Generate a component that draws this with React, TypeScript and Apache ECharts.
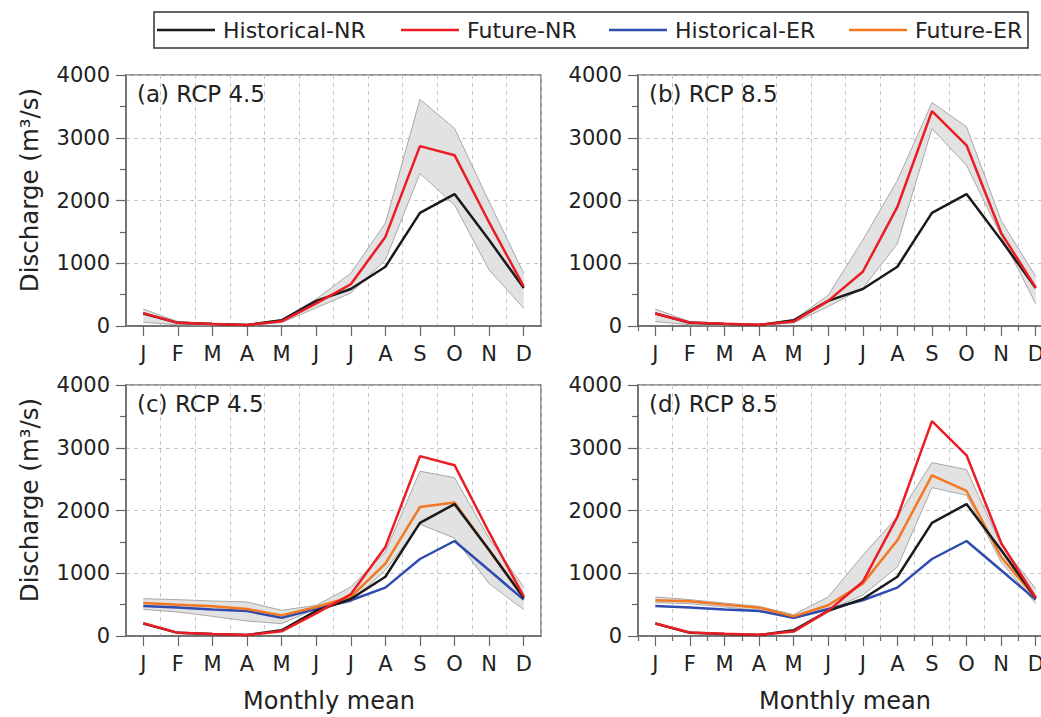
import React, { useEffect, useRef } from 'react';
import * as echarts from 'echarts';

const MONTHS = ['J', 'F', 'M', 'A', 'M', 'J', 'J', 'A', 'S', 'O', 'N', 'D'];
const Y_TICKS = [0, 1000, 2000, 3000, 4000];

const HIST_NR = [200, 50, 30, 15, 90, 400, 590, 945, 1803, 2102, 1370, 605];
const FUT_NR_45 = [205, 50, 30, 15, 75, 360, 665, 1420, 2866, 2722, 1650, 630];
const FUT_NR_85 = [200, 55, 35, 20, 70, 400, 865, 1897, 3424, 2880, 1485, 610];
const HIST_ER = [478, 455, 422, 398, 292, 430, 569, 771, 1227, 1514, 1047, 580];
const FUT_ER_45 = [526, 499, 473, 430, 329, 462, 622, 1153, 2056, 2126, 1366, 622];
const FUT_ER_85 = [568, 552, 500, 452, 313, 489, 835, 1525, 2561, 2311, 1259, 606];

const BAND_A_UP = [270, 70, 45, 25, 100, 430, 840, 1640, 3612, 3150, 1980, 840];
const BAND_A_LO = [60, 20, 10, 5, 55, 290, 525, 1050, 2433, 1928, 892, 282];
const BAND_B_UP = [270, 70, 45, 28, 100, 490, 1370, 2320, 3560, 3175, 1680, 790];
const BAND_B_LO = [70, 20, 10, 5, 50, 310, 600, 1310, 3145, 2560, 1440, 356];
const BAND_C_UP = [595, 579, 558, 542, 409, 489, 781, 1339, 2625, 2524, 1557, 781];
const BAND_C_LO = [425, 382, 313, 239, 197, 436, 542, 1047, 1780, 1560, 835, 421];
const BAND_D_UP = [622, 579, 526, 473, 340, 622, 1286, 1900, 2763, 2652, 1450, 755];
const BAND_D_LO = [531, 515, 462, 409, 276, 409, 650, 1100, 2365, 2242, 1180, 516];

const PANEL_LABELS = ['(a) RCP 4.5', '(b) RCP 8.5', '(c) RCP 4.5', '(d) RCP 8.5'];
const NAMES = ['Historical-NR', 'Future-NR', 'Historical-ER', 'Future-ER'];
const COLORS: Record<string, string> = {
  'Historical-NR': '#1a1a1a',
  'Future-NR': '#ec1c24',
  'Historical-ER': '#2f4cae',
  'Future-ER': '#f27821',
};

const FONT = 'DejaVu Sans';
const TEXT = '#222';
const AXIS = '#666';

export default function App() {
  const ref = useRef<HTMLDivElement>(null);
  useEffect(() => {
    if (!ref.current) return;
    document.body.style.margin = '0';
    const chart = echarts.init(ref.current, null, { renderer: 'svg' });

    const grids = [
      { left: 126, top: 75 },
      { left: 638, top: 75 },
      { left: 126, top: 385 },
      { left: 638, top: 385 },
    ].map((g) => ({
      ...g,
      width: 415,
      height: 251,
      outerBoundsMode: 'none',
      containLabel: false,
      show: true,
      borderColor: '#777',
      borderWidth: 1.5,
      backgroundColor: 'transparent',
    }));

    const mainX = grids.map((_, i) => ({
      type: 'category',
      gridIndex: i,
      data: MONTHS,
      position: 'bottom',
      boundaryGap: true,
      axisLine: { lineStyle: { color: AXIS, width: 1.5 } },
      axisTick: { show: true, alignWithLabel: true, interval: 0, length: 10, lineStyle: { color: AXIS, width: 1.2 } },
      axisLabel: { interval: 0, margin: 17, fontSize: 21, fontFamily: FONT, color: TEXT },
      splitLine: { show: true, interval: 0, lineStyle: { color: '#c4c4c4', type: [4, 4], width: 1 } },
    }));
    const minorX = [1, 3].map((gi) => ({
      type: 'category',
      gridIndex: gi,
      data: MONTHS,
      position: 'bottom',
      boundaryGap: true,
      axisLine: { show: false },
      axisTick: { show: true, alignWithLabel: false, interval: 0, length: 5, lineStyle: { color: AXIS, width: 1.2 } },
      axisLabel: { show: false },
      splitLine: { show: false },
    }));

    const yAxes = grids.map((_, i) => ({
      type: 'value',
      gridIndex: i,
      min: Y_TICKS[0],
      max: Y_TICKS[Y_TICKS.length - 1],
      interval: 1000,
      axisLine: { show: true, lineStyle: { color: AXIS, width: 1.5 } },
      axisTick: { show: true, length: 10, lineStyle: { color: AXIS, width: 1.2 } },
      minorTick: { show: true, splitNumber: 2, length: 6, lineStyle: { color: AXIS, width: 1.2 } },
      axisLabel: {
        margin: 16,
        fontSize: 21,
        fontFamily: FONT,
        color: TEXT,
        formatter: (v: number) => String(v),
      },
      splitLine: { show: true, lineStyle: { color: '#c4c4c4', type: [4, 4], width: 1 } },
    }));

    const series: any[] = [];
    const addBand = (gi: number, up: number[], lo: number[]) => {
      const common = { type: 'line', xAxisIndex: gi, yAxisIndex: gi, symbol: 'none', silent: true };
      series.push({ ...common, name: 'band-lo-' + gi, data: lo, stack: 'band' + gi, lineStyle: { opacity: 0 }, z: 1 });
      series.push({
        ...common,
        name: 'band-diff-' + gi,
        data: up.map((v, i) => v - lo[i]),
        stack: 'band' + gi,
        lineStyle: { opacity: 0 },
        areaStyle: { color: '#e2e2e2', opacity: 1 },
        z: 1,
      });
      series.push({ ...common, name: 'band-up-edge-' + gi, data: up, lineStyle: { color: '#a8a8a8', width: 1 }, z: 2 });
      series.push({ ...common, name: 'band-lo-edge-' + gi, data: lo, lineStyle: { color: '#a8a8a8', width: 1 }, z: 2 });
    };
    const addLine = (gi: number, name: string, data: number[], z: number) => {
      series.push({
        type: 'line',
        name,
        xAxisIndex: gi,
        yAxisIndex: gi,
        data,
        symbol: 'none',
        itemStyle: { color: COLORS[name] },
        lineStyle: { color: COLORS[name], width: 2.5 },
        z,
      });
    };

    addBand(0, BAND_A_UP, BAND_A_LO);
    addLine(0, 'Historical-NR', HIST_NR, 4);
    addLine(0, 'Future-NR', FUT_NR_45, 6);

    addBand(1, BAND_B_UP, BAND_B_LO);
    addLine(1, 'Historical-NR', HIST_NR, 4);
    addLine(1, 'Future-NR', FUT_NR_85, 6);

    addBand(2, BAND_C_UP, BAND_C_LO);
    addLine(2, 'Historical-ER', HIST_ER, 3);
    addLine(2, 'Future-ER', FUT_ER_45, 4);
    addLine(2, 'Historical-NR', HIST_NR, 5);
    addLine(2, 'Future-NR', FUT_NR_45, 6);

    addBand(3, BAND_D_UP, BAND_D_LO);
    addLine(3, 'Historical-ER', HIST_ER, 3);
    addLine(3, 'Future-ER', FUT_ER_85, 4);
    addLine(3, 'Historical-NR', HIST_NR, 5);
    addLine(3, 'Future-NR', FUT_NR_85, 6);

    const labelPos = [
      [137, 94],
      [649, 94],
      [137, 404],
      [649, 404],
    ];
    const graphic: any[] = PANEL_LABELS.map((t, i) => ({
      type: 'text',
      x: labelPos[i][0],
      y: labelPos[i][1],
      z: 100,
      style: { text: t, fontSize: 23, fontFamily: FONT, fill: TEXT, textAlign: 'left', textVerticalAlign: 'middle' },
    }));
    [190, 500].forEach((cy) => {
      graphic.push({
        type: 'text',
        x: 29,
        y: cy,
        rotation: Math.PI / 2,
        style: { text: 'Discharge (m³/s)', fontSize: 24.5, fontFamily: FONT, fill: TEXT, textAlign: 'center', textVerticalAlign: 'middle' },
      });
    });
    [329, 845].forEach((cx) => {
      graphic.push({
        type: 'text',
        x: cx,
        y: 701,
        style: { text: 'Monthly mean', fontSize: 24, fontFamily: FONT, fill: TEXT, textAlign: 'center', textVerticalAlign: 'middle' },
      });
    });
    // legend frame
    graphic.push({
      type: 'rect',
      shape: { x: 154, y: 12, width: 874, height: 36 },
      style: { fill: 'none', stroke: '#333', lineWidth: 1.5 },
      silent: true,
    });

    const legendLefts = [157, 401, 609, 849];
    const legends = NAMES.map((n, i) => ({
      data: [n],
      left: legendLefts[i],
      top: 12,
      orient: 'horizontal',
      icon: 'rect',
      itemWidth: 58,
      itemHeight: 2.5,
      padding: [7, 0, 7, 0],
      selectedMode: false,
      textStyle: { fontSize: 22, fontFamily: FONT, color: TEXT, padding: [0, 0, 0, 3] },
    }));

    chart.setOption({
      animation: false,
      backgroundColor: '#fff',
      legend: legends,
      grid: grids,
      xAxis: [...mainX, ...minorX],
      yAxis: yAxes,
      series,
      graphic,
    });
    return () => chart.dispose();
  }, []);
  return (
    <div
      ref={ref}
      style={{ position: 'fixed', left: 0, top: 0, width: 1041, height: 717, background: '#fff' }}
    />
  );
}
